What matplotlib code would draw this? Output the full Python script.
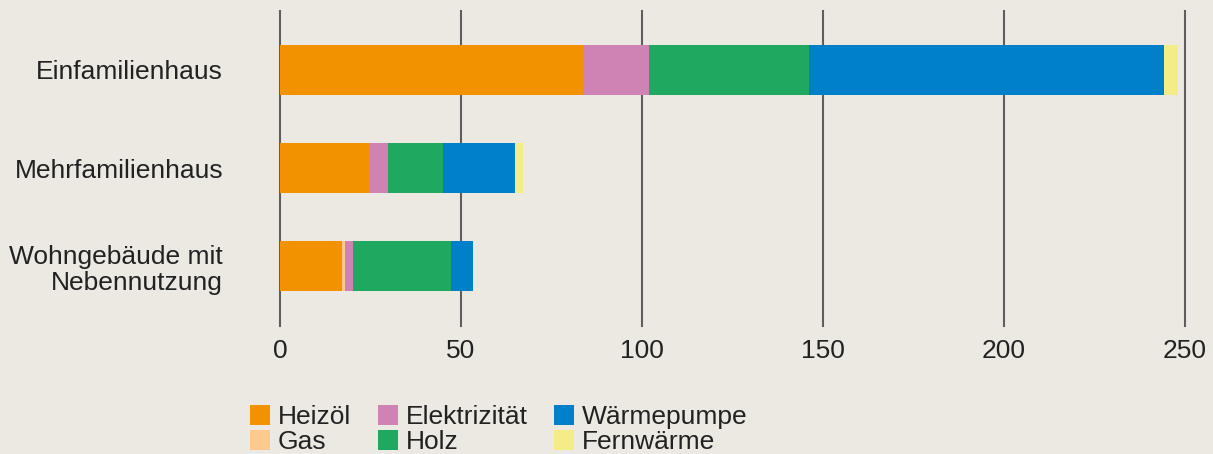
import numpy as np
import matplotlib
matplotlib.use("Agg")
from matplotlib import pyplot as plt

# data
categories = ["Einfamilienhaus", "Mehrfamilienhaus", "Wohngebäude mit\nNebennutzung"]
sources = ["Heizöl", "Gas", "Elektrizität", "Holz", "Wärmepumpe", "Fernwärme"]
colors = ["#F39200", "#FDC98F", "#CF82B4", "#1FA85F", "#0080C9", "#F3EC87"]

heizoel = [83.7, 24.5, 17.0]
gas = [0.0, 0.0, 1.0]
elektrizitaet = [18.3, 5.2, 2.2]
holz = [44.2, 15.3, 27.0]
waermepumpe = [98.0, 20.0, 6.0]
fernwaerme = [4.0, 2.0, 0.0]

series = [heizoel, gas, elektrizitaet, holz, waermepumpe, fernwaerme]
xticks = [0, 50, 100, 150, 200, 250]

bg = "#ECE9E2"
plt.rcParams["font.family"] = ["Liberation Sans", "DejaVu Sans"]
fs = 19

fig = plt.figure(figsize=(12.13, 4.54), dpi=100, facecolor=bg)
ax = fig.add_axes([280 / 1213, 1 - 326 / 454, 905 / 1213, 315 / 454])
ax.set_facecolor(bg)

y = np.arange(len(categories))
left = np.zeros(len(categories))
for vals, name, col in zip(series, sources, colors):
    ax.barh(y, vals, left=left, height=0.51, color=col, label=name, zorder=3)
    left += np.array(vals)

for t in xticks:
    ax.axvline(t, color="#5e5e5e", lw=1.5, zorder=1, clip_on=False)

ax.set_xlim(0, 250)
ax.set_ylim(2.61, -0.6)
ax.set_yticks(y)
ax.set_yticklabels(categories, fontsize=fs, color="#222222", linespacing=1.12)
ax.set_xticks(xticks)
ax.set_xticklabels([str(t) for t in xticks], fontsize=fs, color="#222222")
ax.tick_params(axis="y", length=0, pad=41)
ax.tick_params(axis="x", length=0, pad=9)
for s in ax.spines.values():
    s.set_visible(False)

leg = fig.legend(loc="upper left", bbox_to_anchor=(250 / 1213, 1 - 405 / 454),
                 ncol=3, frameon=False, fontsize=fs, handlelength=0.76,
                 handleheight=0.76, handletextpad=0.3, columnspacing=1.0,
                 labelspacing=0.05, borderpad=0, borderaxespad=0)
for txt in leg.get_texts():
    txt.set_color("#222222")

fig.savefig("out.png", dpi=100, facecolor=bg)
